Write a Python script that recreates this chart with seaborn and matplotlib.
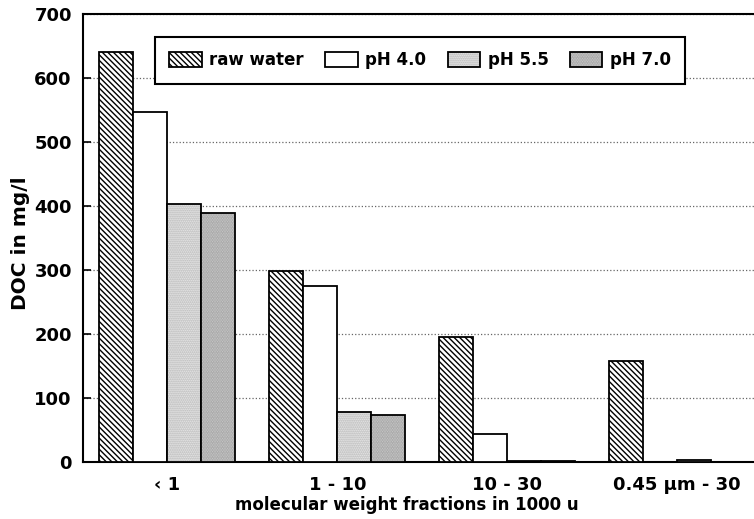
import matplotlib
matplotlib.use('Agg')
import matplotlib.pyplot as plt
import seaborn as sns
import pandas as pd

# ---- data ----
categories = ['\u2039 1', '1 - 10', '10 - 30', '0.45 \u00b5m - 30']
series = ['raw water', 'pH 4.0', 'pH 5.5', 'pH 7.0']
raw_water = [641, 299, 196, 158]
ph_4_0 = [547, 275, 44, 0]
ph_5_5 = [403, 78, 2, 4]
ph_7_0 = [389, 74, 1.5, 1]
y_ticks = [0, 100, 200, 300, 400, 500, 600, 700]

rows = []
for s, vals in zip(series, [raw_water, ph_4_0, ph_5_5, ph_7_0]):
    for c, v in zip(categories, vals):
        rows.append({'fraction': c, 'series': s, 'DOC': v})
df = pd.DataFrame(rows)

sns.set_style('white')
plt.rcParams['font.family'] = ['DejaVu Sans']
plt.rcParams['font.weight'] = 'bold'
plt.rcParams['text.color'] = 'black'
plt.rcParams['hatch.linewidth'] = 1.0

fig = plt.figure(figsize=(7.54, 5.19), dpi=100)
ax = fig.add_axes([0.110, 0.109, 0.890, 0.864])

palette = {'raw water': 'white', 'pH 4.0': 'white',
           'pH 5.5': '#f0f0f0', 'pH 7.0': '#dadada'}
sns.barplot(data=df, x='fraction', y='DOC', hue='series', order=categories,
            hue_order=series, palette=palette, width=0.8, saturation=1,
            edgecolor='black', linewidth=1.3, legend=False, ax=ax, zorder=3)

hatches = ['\\' * 6, '', '........', '..........']
hatch_cols = [(0, 0, 0, 1), (0, 0, 0, 1), (0.68, 0.68, 0.68, 1), (0.6, 0.6, 0.6, 1)]
for cont, h, hc in zip(ax.containers, hatches, hatch_cols):
    for p in cont:
        p.set_hatch(h)
        p._hatch_color = hc

ax.set_ylim(0, 700)
ax.set_yticks(y_ticks)
ax.set_xlim(-0.497, 3.453)
ax.yaxis.grid(True, linestyle=':', color='#666666', linewidth=0.9)
ax.xaxis.grid(False)
ax.set_axisbelow(True)

ax.tick_params(axis='y', direction='in', length=6, width=1.2, left=True,
               labelsize=13, pad=8, colors='black')
ax.tick_params(axis='x', bottom=False, labelsize=13, pad=6, colors='black')
for lbl in ax.get_xticklabels() + ax.get_yticklabels():
    lbl.set_fontweight('bold')

for side in ['top', 'left', 'bottom']:
    ax.spines[side].set_visible(True)
    ax.spines[side].set_color('black')
    ax.spines[side].set_linewidth(1.5)
ax.spines['right'].set_visible(False)

ax.set_ylabel('DOC in mg/l', fontsize=14.5, fontweight='bold', color='black')
ax.yaxis.set_label_coords(-0.079, 0.49)
ax.set_xlabel('molecular weight fractions in 1000 u', fontsize=12,
              fontweight='bold', color='black')
ax.xaxis.set_label_coords(0.483, -0.075)

leg = ax.legend(handles=ax.containers, labels=series, ncol=4, loc='center',
                bbox_to_anchor=(0.1073, 0.844, 0.79, 0.105), mode='expand',
                frameon=True, fancybox=False, edgecolor='black', framealpha=1,
                prop={'weight': 'bold', 'size': 12}, handlelength=1.95,
                handleheight=1.0, handletextpad=0.45, borderaxespad=0,
                borderpad=0.85, labelcolor='black')
leg.get_frame().set_linewidth(1.5)
leg.set_zorder(5)

fig.savefig('out.png', dpi=100)
